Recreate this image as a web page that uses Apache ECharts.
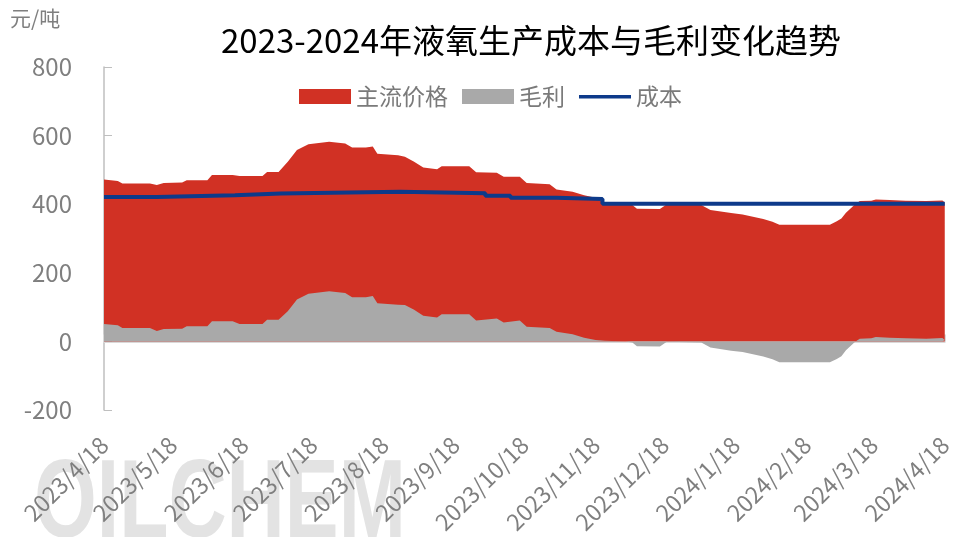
<!DOCTYPE html>
<html lang="zh">
<head>
<meta charset="UTF-8">
<title>液氧生产成本与毛利</title>
<style>html,body{margin:0;padding:0;background:#fff;}</style>
</head>
<body>
<div id="main" style="width:955px;height:537px;"></div>
<script src="https://cdn.jsdelivr.net/npm/echarts@6.0.0/dist/echarts.min.js"></script>
<script>
// 主流价格 / 毛利
var priceDates = [
    '2023-04-18', '2023-04-24', '2023-04-26', '2023-05-08', '2023-05-11', '2023-05-14', '2023-05-22', '2023-05-24',
    '2023-06-02', '2023-06-04', '2023-06-13', '2023-06-16', '2023-06-26', '2023-06-28', '2023-07-03', '2023-07-07',
    '2023-07-11', '2023-07-16', '2023-07-25', '2023-08-01', '2023-08-04', '2023-08-10', '2023-08-13', '2023-08-15',
    '2023-08-24', '2023-08-27', '2023-08-31', '2023-09-04', '2023-09-10', '2023-09-12', '2023-09-24', '2023-09-27',
    '2023-10-06', '2023-10-09', '2023-10-16', '2023-10-19', '2023-10-29', '2023-11-01', '2023-11-08', '2023-11-13',
    '2023-11-18', '2023-11-22', '2023-12-01', '2023-12-04', '2023-12-06', '2023-12-16', '2023-12-19', '2024-01-03',
    '2024-01-07', '2024-01-16', '2024-01-21', '2024-01-30', '2024-02-03', '2024-02-06', '2024-02-28', '2024-03-02',
    '2024-03-04', '2024-03-06', '2024-03-10', '2024-03-12', '2024-03-17', '2024-03-19', '2024-03-25', '2024-04-01',
    '2024-04-10', '2024-04-17', '2024-04-18'
];
var priceValues = [
    472, 468, 460, 460, 456, 462, 463, 470,
    470, 485, 485, 482, 482, 494, 494, 524,
    558, 575, 582, 577, 565, 565, 568, 547,
    543, 538, 524, 507, 502, 511, 511, 493,
    492, 480, 480, 462, 458, 443, 436, 426,
    419, 403, 401, 398, 387, 386, 400, 398,
    383, 374, 370, 357, 349, 340, 340, 350,
    358, 375, 400, 409, 410, 414, 412, 410,
    409, 411, 405
];
var profitValues = [
    51, 47, 39, 39, 30, 36, 37, 44,
    44, 59, 59, 51, 51, 63, 63, 88,
    122, 139, 146, 141, 129, 129, 132, 111,
    107, 106, 92, 75, 70, 79, 79, 61,
    67, 55, 61, 43, 39, 28, 21, 11,
    4, 2, 0, -3, -14, -15, -1, -3,
    -18, -27, -31, -44, -52, -61, -61, -51,
    -43, -26, -1, 8, 9, 13, 11, 9,
    8, 10, 4
];
// 成本 (阶梯)
var costDates = ['2023-04-18', '2023-05-11', '2023-06-14', '2023-07-04', '2023-08-25', '2023-10-01', '2023-10-12', '2023-11-01', '2023-11-21', '2024-04-18'];
var costValues = [421, 426, 431, 436, 432, 425, 419, 415, 401, 401];

var tickDates = [
    '2023-04-18', '2023-05-18', '2023-06-18', '2023-07-18', '2023-08-18', '2023-09-18', '2023-10-18',
    '2023-11-18', '2023-12-18', '2024-01-18', '2024-02-18', '2024-03-18', '2024-04-18'
];

var DAY = 86400000;
function utc(s) {
    var p = s.split('-');
    return Date.UTC(+p[0], +p[1] - 1, +p[2]);
}
var t0 = utc(tickDates[0]);
function dayNo(s) { return Math.round((utc(s) - t0) / DAY); }
function pairs(xs, ys) {
    var out = [];
    for (var i = 0; i < xs.length; i++) out.push([dayNo(xs[i]), ys[i]]);
    return out;
}
var tickDays = tickDates.map(dayNo);
var lastDay = tickDays[tickDays.length - 1];

var font = '"Noto Sans CJK SC", "Noto Sans", sans-serif';
var myChart = echarts.init(document.getElementById('main'));

var option = {
    animation: false,
    title: {
        text: '2023-2024年液氧生产成本与毛利变化趋势',
        left: 216,
        top: 19,
        textStyle: { color: '#000', fontSize: 33, fontWeight: 'normal', fontFamily: font }
    },
    graphic: [
        {
            type: 'text',
            left: 10,
            top: 8,
            style: { text: '元/吨', fill: '#7f7f7f', font: '21px ' + font }
        },
        {
            type: 'text',
            x: 34,
            y: 450,
            scaleX: 0.72,
            zlevel: -1,
            z: -1,
            silent: true,
            style: {
                text: 'OILCHEM',
                font: 'bold 112px "Liberation Sans", sans-serif',
                fill: '#e3e3e3'
            }
        }
    ],
    legend: {
        top: 80,
        left: 294,
        itemWidth: 52,
        itemHeight: 15,
        itemGap: 14,
        textStyle: { color: '#7a7a7a', fontSize: 23, fontFamily: font },
        data: [
            { name: '主流价格', icon: 'rect' },
            { name: '毛利', icon: 'rect' },
            { name: '成本', icon: 'path://M0,0 M0,6 L52,6 L52,9.5 L0,9.5 Z M52,15' }
        ]
    },
    grid: { left: 104, right: 3, top: 67, bottom: 127 },
    xAxis: [
        {
            type: 'value',
            min: 0,
            max: lastDay,
            position: 'bottom',
            axisLine: { show: true, onZero: true, lineStyle: { color: '#d9d9d9', width: 2 } },
            axisTick: { show: true, inside: true, length: 7, customValues: tickDays, lineStyle: { color: '#d9d9d9', width: 2 } },
            axisLabel: { show: false },
            splitLine: { show: false }
        },
        {
            type: 'value',
            min: 0,
            max: lastDay,
            position: 'bottom',
            z: 10,
            axisLine: { show: false, onZero: false },
            axisTick: { show: false },
            splitLine: { show: false },
            axisLabel: {
                customValues: tickDays,
                rotate: 45,
                margin: 31,
                color: '#7f7f7f',
                fontSize: 23,
                fontFamily: font,
                hideOverlap: false,
                formatter: function (v) {
                    var d = new Date(t0 + v * DAY);
                    return d.getUTCFullYear() + '/' + (d.getUTCMonth() + 1) + '/' + d.getUTCDate();
                }
            }
        }
    ],
    yAxis: {
        type: 'value',
        min: -200,
        max: 800,
        interval: 200,
        axisLine: { show: true, onZero: false, lineStyle: { color: '#bfbfbf', width: 1.5 } },
        axisTick: { show: true, inside: true, length: 8, lineStyle: { color: '#bfbfbf' } },
        axisLabel: { color: '#7f7f7f', fontSize: 24, fontFamily: font, margin: 32 },
        splitLine: { show: false }
    },
    series: [
        {
            name: '主流价格',
            type: 'line',
            xAxisIndex: 0,
            data: pairs(priceDates, priceValues),
            symbol: 'none',
            color: '#d13124',
            lineStyle: { width: 0 },
            areaStyle: { color: '#d13124', opacity: 1 },
            z: 2
        },
        {
            name: '毛利',
            type: 'line',
            xAxisIndex: 0,
            data: pairs(priceDates, profitValues),
            symbol: 'none',
            color: '#a9a9a9',
            lineStyle: { width: 0 },
            areaStyle: { color: '#a9a9a9', opacity: 1 },
            z: 3
        },
        {
            name: '成本',
            type: 'line',
            xAxisIndex: 0,
            step: 'end',
            data: pairs(costDates, costValues),
            symbol: 'none',
            color: '#0d3a8a',
            lineStyle: { width: 4, color: '#0d3a8a' },
            z: 4
        }
    ]
};
myChart.setOption(option);
</script>
</body>
</html>
